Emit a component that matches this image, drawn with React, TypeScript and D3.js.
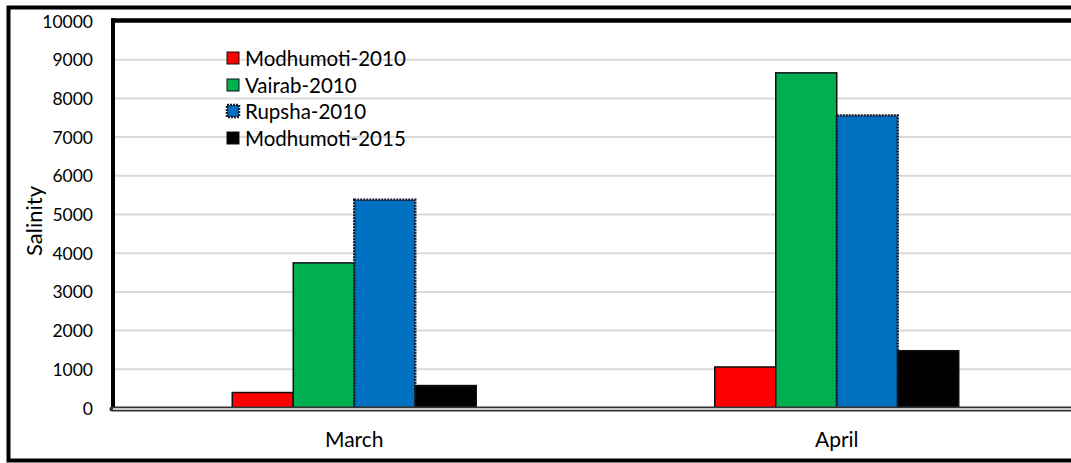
import React from "react";
import * as d3 from "d3";

const categories = ["March", "April"];
const seriesNames = ["Modhumoti-2010", "Vairab-2010", "Rupsha-2010", "Modhumoti-2015"];
const seriesColors = ["#ff0000", "#00b050", "#0070c0", "#000000"];
const modhumoti2010 = [400, 1060];
const vairab2010 = [3750, 8660];
const rupsha2010 = [5380, 7560];
const modhumoti2015 = [580, 1480];
const yTicks = [0, 1000, 2000, 3000, 4000, 5000, 6000, 7000, 8000, 9000, 10000];

const seriesValues = [modhumoti2010, vairab2010, rupsha2010, modhumoti2015];

const W = 1071;
const H = 463;
const FONT = "Lato, 'Open Sans', sans-serif";

export default function App() {
  const plotLeft = 113;
  const plotRight = 1078;
  const plotTop = 21;
  const plotBottom = 408;

  const x = d3.scaleBand<string>().domain(categories).range([plotLeft, plotRight]).paddingInner(0).paddingOuter(0);
  const xs = d3.scaleBand<string>().domain(seriesNames).range([0, x.bandwidth()]).paddingInner(0).paddingOuter(1.955);
  const y = d3.scaleLinear().domain([0, 10000]).range([plotBottom, plotTop]);

  const legendX = 227;
  const legendRows = [58, 85, 111, 138];

  return (
    <svg width={W} height={H} style={{ position: "absolute", left: 0, top: 0, background: "#fff" }} fontFamily={FONT}>
      <rect x={0} y={0} width={W} height={H} fill="#fff" />
      {/* outer border */}
      <rect x={8.5} y={7.5} width={W + 20} height={453} fill="none" stroke="#000" strokeWidth={4} />
      {/* gridlines */}
      {yTicks.filter((t) => t > 0).map((t) => (
        <line key={t} x1={plotLeft} x2={W + 10} y1={y(t)} y2={y(t)} stroke="#d9d9d9" strokeWidth={2} />
      ))}
      {/* y tick labels */}
      {yTicks.map((t) => (
        <text key={"l" + t} x={93} y={y(t)} textAnchor="end" dominantBaseline="central" fontSize={17.5} fill="#000">
          {t}
        </text>
      ))}
      {/* bars */}
      {categories.map((c, ci) =>
        seriesNames.map((s, si) => {
          const v = seriesValues[si][ci];
          const bx = (x(c) as number) + (xs(s) as number);
          const isBlue = si === 2;
          return (
            <rect
              key={c + s}
              x={bx}
              y={y(v)}
              width={xs.bandwidth()}
              height={plotBottom - y(v)}
              fill={seriesColors[si]}
              stroke={isBlue ? "#1a1a2a" : "#111"}
              strokeWidth={isBlue ? 2.5 : 1.5}
              strokeDasharray={isBlue ? "2 1" : undefined}
            />
          );
        })
      )}
      {/* plot top border */}
      <line x1={plotLeft - 2} x2={W + 10} y1={plotTop - 0.5} y2={plotTop - 0.5} stroke="#000" strokeWidth={4.5} />
      {/* left axis */}
      <line x1={plotLeft} x2={plotLeft} y1={plotTop - 2.5} y2={plotBottom + 2} stroke="#000" strokeWidth={4} />
      {/* bottom axis: double line */}
      <line x1={plotLeft - 1} x2={W + 10} y1={plotBottom + 1} y2={plotBottom + 1} stroke="#333" strokeWidth={5} strokeLinecap="round" />
      <line x1={plotLeft} x2={W + 10} y1={plotBottom + 1} y2={plotBottom + 1} stroke="#c8c8c8" strokeWidth={2} />
      {/* category labels */}
      {categories.map((c) => (
        <text key={c} x={(x(c) as number) + x.bandwidth() / 2} y={438} textAnchor="middle" dominantBaseline="central" fontSize={21} fill="#000">
          {c}
        </text>
      ))}
      {/* y axis title */}
      <text transform={`translate(33,221) rotate(-90)`} textAnchor="middle" dominantBaseline="central" fontSize={22} fill="#000">
        Salinity
      </text>
      {/* legend */}
      {seriesNames.map((s, i) => (
        <g key={s}>
          <rect
            x={legendX}
            y={legendRows[i] - 6}
            width={12}
            height={12}
            fill={seriesColors[i]}
            stroke={i === 2 ? "#1a1a2a" : "#111"}
            strokeWidth={i === 2 ? 2.5 : 1}
            strokeDasharray={i === 2 ? "2 1" : undefined}
          />
          <text x={245} y={legendRows[i]} dominantBaseline="central" fontSize={20.5} fill="#000">
            {s}
          </text>
        </g>
      ))}
    </svg>
  );
}
